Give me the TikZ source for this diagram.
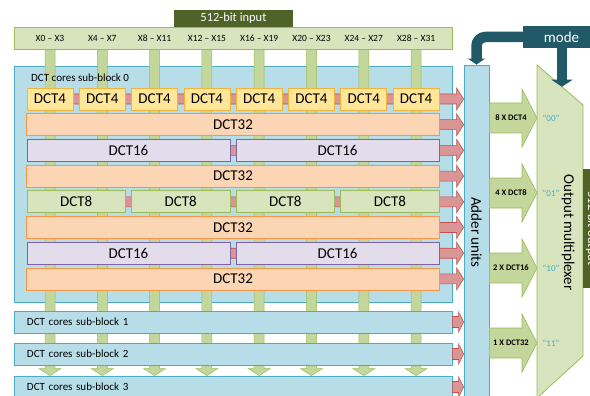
\documentclass[tikz,border=0pt]{standalone}
\usepackage{fontspec}
\setmainfont{Carlito}
\usetikzlibrary{calc,arrows.meta}
\definecolor{inputfill}{HTML}{D7E4BD}
\definecolor{inputline}{HTML}{9BBB59}
\definecolor{pipefill}{HTML}{C3D69B}
\definecolor{darkolive}{HTML}{4F6228}
\definecolor{blockfill}{HTML}{B7DEE8}
\definecolor{blockline}{HTML}{4BACC6}
\definecolor{goldfill}{HTML}{FFE699}
\definecolor{goldline}{HTML}{F2B33D}
\definecolor{peachfill}{HTML}{FCD5B5}
\definecolor{peachline}{HTML}{F79646}
\definecolor{lilacfill}{HTML}{E2DCEB}
\definecolor{lilacline}{HTML}{8064A2}
\definecolor{linkfill}{HTML}{D99694}
\definecolor{linkline}{HTML}{C0504D}
\definecolor{modeteal}{HTML}{215968}
\definecolor{selteal}{HTML}{4BACC6}

\pgfdeclarelayer{background}
\pgfsetlayers{background,main}

% fat block arrows: style, from, to, body half, head half, head length
\newcommand{\rightfat}[6]{%
  \filldraw[#1] let \p1=(#2), \p2=(#3) in
    (\x1,\y1+#4) -- (\x2-#6,\y1+#4) -- (\x2-#6,\y1+#5) -- (\x2,\y1)
    -- (\x2-#6,\y1-#5) -- (\x2-#6,\y1-#4) -- (\x1,\y1-#4) -- cycle;}
\newcommand{\downfat}[6]{%
  \filldraw[#1] let \p1=(#2), \p2=(#3) in
    (\x1-#4,\y1) -- (\x1-#4,\y2+#6) -- (\x1-#5,\y2+#6) -- (\x1,\y2)
    -- (\x1+#5,\y2+#6) -- (\x1+#4,\y2+#6) -- (\x1+#4,\y1) -- cycle;}

\tikzset{
  dctbox/.style={draw, line width=0.8pt, minimum height=22pt, inner sep=0pt,
    font=\fontsize{15}{18}\selectfont},
  dctfour/.style={dctbox, fill=goldfill, draw=goldline, minimum width=46pt},
  dcteight/.style={dctbox, fill=inputfill, draw=inputline, minimum width=98.3pt},
  dctsixteen/.style={dctbox, fill=lilacfill, draw=lilacline, minimum width=202.9pt},
  dctthirtytwo/.style={dctbox, fill=peachfill, draw=peachline, minimum width=412.4pt},
  subblock/.style={draw=blockline, fill=blockfill, line width=0.8pt, minimum height=22pt,
    inner xsep=13pt, inner ysep=0pt, text width=412pt, align=left,
    font=\fontsize{11}{13}\selectfont},
  olivebox/.style={fill=darkolive, text=white, minimum width=119pt, minimum height=17pt,
    inner sep=0pt, font=\fontsize{12.5}{15}\selectfont},
  redarrow/.style={fill=linkfill, draw=linkline, line width=0.6pt},
  outarrow/.style={fill=pipefill, draw=inputline, line width=0.6pt},
  pipe/.style={fill=pipefill, draw=inputline, line width=0.5pt},
  modeline/.style={draw=modeteal, line width=10.5pt, rounded corners=9pt},
  xlab/.style={font=\fontsize{9.5}{11}\selectfont},
  countlab/.style={font=\fontsize{8.5}{10}\bfseries\selectfont},
  sellab/.style={text=selteal, font=\fontsize{9}{11}\selectfont},
  bigtext/.style={font=\fontsize{15}{18}\selectfont}
}

\begin{document}
\begin{tikzpicture}[x=1pt,y=-1pt]
  \def\colx{50}      % first input column
  \def\pitch{52.3}   % column pitch
  \def\rowy{99}      % first DCT row
  \def\rowdy{25.7}   % row pitch
  \def\outy{118}     % first output arrow
  \def\outdy{75}

  \useasboundingbox (0,0) rectangle (590,396);
  \clip (0,0) rectangle (590,396);

  % ---------- input bus ----------
  \node[draw=inputline, fill=inputfill, line width=0.8pt, minimum width=438pt, minimum height=22pt] (inbar) at (233,38) {};
  \node[olivebox] (inlab) at (233.5,18.5) {512-bit input};
  \node[xlab] (x0) at ({\colx+0*\pitch},38) {X0 -- X3};
  \node[xlab] (x1) at ({\colx+1*\pitch},38) {X4 -- X7};
  \node[xlab] (x2) at ({\colx+2*\pitch},38) {X8 -- X11};
  \node[xlab] (x3) at ({\colx+3*\pitch},38) {X12 -- X15};
  \node[xlab] (x4) at ({\colx+4*\pitch},38) {X16 -- X19};
  \node[xlab] (x5) at ({\colx+5*\pitch},38) {X20 -- X23};
  \node[xlab] (x6) at ({\colx+6*\pitch},38) {X24 -- X27};
  \node[xlab] (x7) at ({\colx+7*\pitch},38) {X28 -- X31};

  % ---------- sub-block 0 rows ----------
  \node[dctfour] (r0a) at ({\colx+0*\pitch},{\rowy+0*\rowdy}) {DCT4};
  \node[dctfour] (r0b) at ({\colx+1*\pitch},{\rowy+0*\rowdy}) {DCT4};
  \node[dctfour] (r0c) at ({\colx+2*\pitch},{\rowy+0*\rowdy}) {DCT4};
  \node[dctfour] (r0d) at ({\colx+3*\pitch},{\rowy+0*\rowdy}) {DCT4};
  \node[dctfour] (r0e) at ({\colx+4*\pitch},{\rowy+0*\rowdy}) {DCT4};
  \node[dctfour] (r0f) at ({\colx+5*\pitch},{\rowy+0*\rowdy}) {DCT4};
  \node[dctfour] (r0g) at ({\colx+6*\pitch},{\rowy+0*\rowdy}) {DCT4};
  \node[dctfour] (r0h) at ({\colx+7*\pitch},{\rowy+0*\rowdy}) {DCT4};

  \node[dctthirtytwo] (r1a) at (233,{\rowy+1*\rowdy}) {DCT32};

  \node[dctsixteen] (r2a) at (128.45,{\rowy+2*\rowdy}) {DCT16};
  \node[dctsixteen] (r2b) at (337.65,{\rowy+2*\rowdy}) {DCT16};

  \node[dctthirtytwo] (r3a) at (233,{\rowy+3*\rowdy}) {DCT32};

  \node[dcteight] (r4a) at (76.15,{\rowy+4*\rowdy}) {DCT8};
  \node[dcteight] (r4b) at (180.75,{\rowy+4*\rowdy}) {DCT8};
  \node[dcteight] (r4c) at (285.35,{\rowy+4*\rowdy}) {DCT8};
  \node[dcteight] (r4d) at (389.95,{\rowy+4*\rowdy}) {DCT8};

  \node[dctthirtytwo] (r5a) at (233,{\rowy+5*\rowdy}) {DCT32};

  \node[dctsixteen] (r6a) at (128.45,{\rowy+6*\rowdy}) {DCT16};
  \node[dctsixteen] (r6b) at (337.65,{\rowy+6*\rowdy}) {DCT16};

  \node[dctthirtytwo] (r7a) at (233,{\rowy+7*\rowdy}) {DCT32};

  \node[font=\fontsize{11}{13}\selectfont, anchor=west, inner sep=0pt] (sb0lab) at (31,78) {DCT cores sub-block 0};

  % ---------- further sub-blocks ----------
  \node[subblock] (sb1) at (233,322) {DCT cores sub-block 1};
  \node[subblock] (sb2) at (233,354) {DCT cores sub-block 2};
  \node[subblock] (sb3) at (233,387) {DCT cores sub-block 3};

  % ---------- adder units ----------
  \node[draw=blockline, fill=blockfill, line width=0.8pt, minimum width=25pt, minimum height=335pt] (adder) at (476.5,232.5) {};
  \node[bigtext, rotate=-90] (addertxt) at (adder.center) {Adder units};

  % ---------- behind the rows: block, columns, links ----------
  \begin{pgfonlayer}{background}
    \node[draw=blockline, fill=blockfill, line width=0.8pt, minimum width=438pt, minimum height=236pt] (sb0) at (233,184) {};
    \downfat{pipe}{x0 |- inbar.south}{x0 |- sb3.north}{5pt}{11pt}{7pt}
    \downfat{pipe}{x1 |- inbar.south}{x1 |- sb3.north}{5pt}{11pt}{7pt}
    \downfat{pipe}{x2 |- inbar.south}{x2 |- sb3.north}{5pt}{11pt}{7pt}
    \downfat{pipe}{x3 |- inbar.south}{x3 |- sb3.north}{5pt}{11pt}{7pt}
    \downfat{pipe}{x4 |- inbar.south}{x4 |- sb3.north}{5pt}{11pt}{7pt}
    \downfat{pipe}{x5 |- inbar.south}{x5 |- sb3.north}{5pt}{11pt}{7pt}
    \downfat{pipe}{x6 |- inbar.south}{x6 |- sb3.north}{5pt}{11pt}{7pt}
    \downfat{pipe}{x7 |- inbar.south}{x7 |- sb3.north}{5pt}{11pt}{7pt}
    \rightfat{redarrow}{r0a.center}{adder.west}{5pt}{11pt}{7pt}
    \rightfat{redarrow}{r1a.center}{adder.west}{5pt}{11pt}{7pt}
    \rightfat{redarrow}{r2a.center}{adder.west}{5pt}{11pt}{7pt}
    \rightfat{redarrow}{r3a.center}{adder.west}{5pt}{11pt}{7pt}
    \rightfat{redarrow}{r4a.center}{adder.west}{5pt}{11pt}{7pt}
    \rightfat{redarrow}{r5a.center}{adder.west}{5pt}{11pt}{7pt}
    \rightfat{redarrow}{r6a.center}{adder.west}{5pt}{11pt}{7pt}
    \rightfat{redarrow}{r7a.center}{adder.west}{5pt}{11pt}{7pt}
  \end{pgfonlayer}

  \rightfat{redarrow}{sb1.east}{adder.west}{5.5pt}{10pt}{5pt}
  \rightfat{redarrow}{sb2.east}{adder.west}{5.5pt}{10pt}{5pt}
  \rightfat{redarrow}{sb3.east}{adder.west}{5.5pt}{10pt}{5pt}

  % ---------- output multiplexer ----------
  \coordinate (muxnw) at (537,65);
  \coordinate (muxne) at (583,105);
  \coordinate (muxse) at (583,356);
  \coordinate (muxsw) at (537,398);
  \filldraw[fill=inputfill, draw=inputline, line width=0.8pt] (muxnw) -- (muxne) -- (muxse) -- (muxsw) -- cycle;
  \node[bigtext, rotate=-90] (muxlab) at (568,232.5) {Output multiplexer};

  \node[sellab] (s0) at (551,{\outy+0*\outdy}) {“00”};
  \node[sellab] (s1) at (551,{\outy+1*\outdy}) {“01”};
  \node[sellab] (s2) at (551,{\outy+2*\outdy}) {“10”};
  \node[sellab] (s3) at (551,{\outy+3*\outdy}) {“11”};

  \rightfat{outarrow}{adder.east |- s0}{muxnw |- s0}{15pt}{29pt}{15pt}
  \rightfat{outarrow}{adder.east |- s1}{muxnw |- s1}{15pt}{29pt}{15pt}
  \rightfat{outarrow}{adder.east |- s2}{muxnw |- s2}{15pt}{29pt}{15pt}
  \rightfat{outarrow}{adder.east |- s3}{muxnw |- s3}{15pt}{29pt}{15pt}
  \node[countlab] (n0) at (511,{\outy+0*\outdy}) {8 X DCT4};
  \node[countlab] (n1) at (511,{\outy+1*\outdy}) {4 X DCT8};
  \node[countlab] (n2) at (511,{\outy+2*\outdy}) {2 X DCT16};
  \node[countlab] (n3) at (511,{\outy+3*\outdy}) {1 X DCT32};

  \node[olivebox, rotate=-90] (outlab) at (591.5,228.5) {512-bit output};

  % ---------- mode select ----------
  \node[fill=modeteal, text=white, minimum width=77pt, minimum height=22pt, bigtext] (mode) at (561.5,37) {mode};
  \draw[modeline, -{Triangle[length=6pt,width=17pt]}] (mode.west) -| (adder.north);
  \coordinate (modein) at ($(muxnw)!0.543!(muxne)$);
  \draw[modeline, -{Triangle[length=7pt,width=21pt]}] (mode.south -| modein) -- (modein);
\end{tikzpicture}
\end{document}
